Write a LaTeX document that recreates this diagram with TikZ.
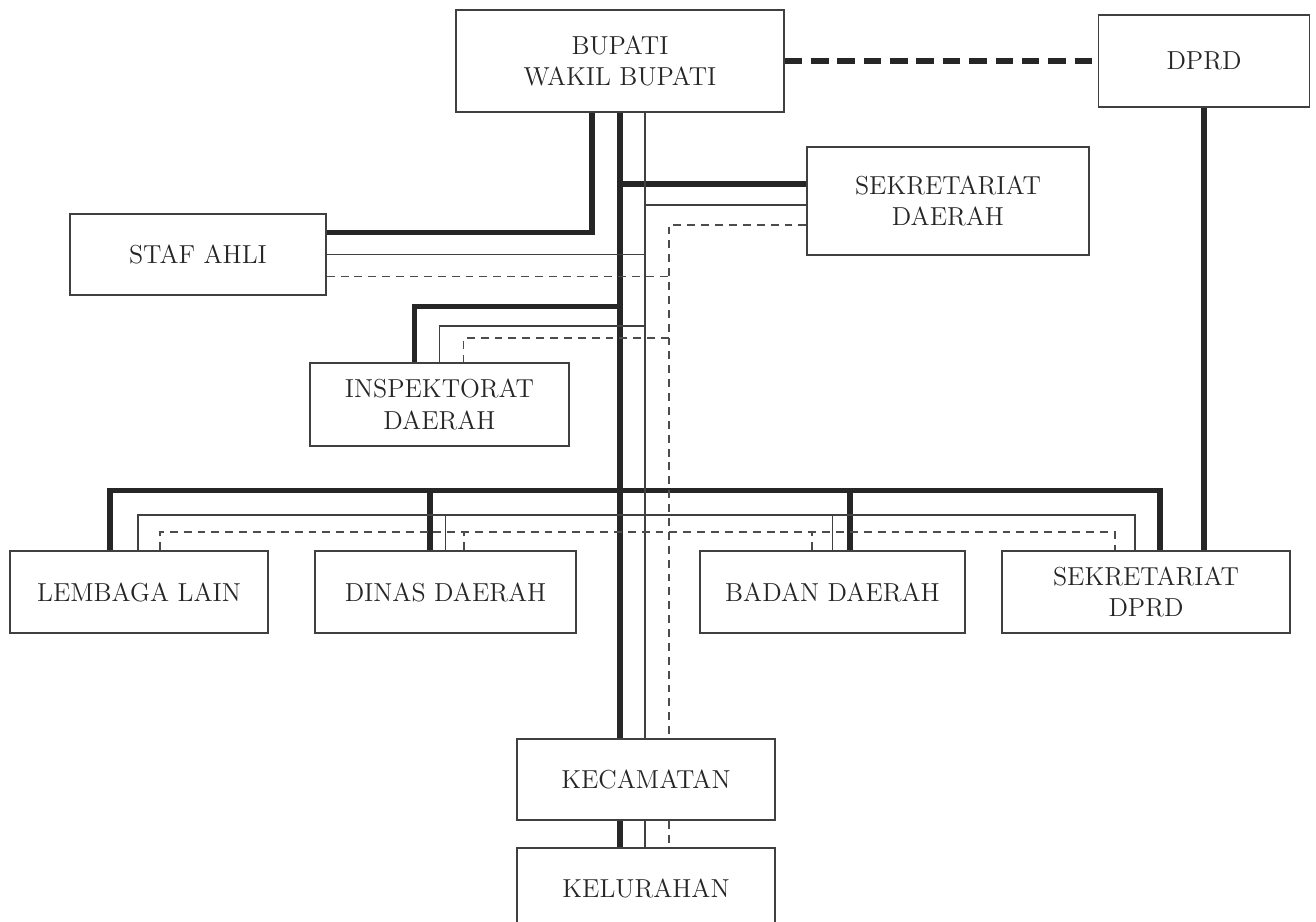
\documentclass[tikz,border=0pt]{standalone}
\usetikzlibrary{calc}

\tikzset{
  unit/.style={draw=black!75, line width=0.85pt, fill=white, align=center,
    inner sep=0pt, text=black!85, font=\fontsize{14.8}{18}\selectfont},
  thickln/.style={draw=black!85, line width=2.9pt},
  thinln/.style={draw=black!75, line width=0.9pt},
  dashln/.style={draw=black!70, line width=0.9pt, dash pattern=on 4.5pt off 3.4pt},
  coordln/.style={draw=black!85, line width=2.9pt, dash pattern=on 10pt off 5pt}
}

\begin{document}
\begin{tikzpicture}[x=0.02cm, y=-0.02cm]
  \useasboundingbox (0,0) rectangle (1316,921);

  % Units
  \node[unit, minimum width=6.56cm, minimum height=2.04cm] (bup) at (620,61) {BUPATI\\WAKIL BUPATI};
  \node[unit, minimum width=4.22cm, minimum height=1.84cm] (dprd) at (1204,61) {DPRD};
  \node[unit, minimum width=5.64cm, minimum height=2.16cm] (sekda) at (948,201) {SEKRETARIAT\\DAERAH};
  \node[unit, minimum width=5.12cm, minimum height=1.62cm] (staf) at (198,254.5) {STAF AHLI};
  \node[unit, minimum width=5.18cm, minimum height=1.66cm] (insp) at (439.5,404.5) {INSPEKTORAT\\DAERAH};
  \node[unit, minimum width=5.16cm, minimum height=1.64cm] (lemb) at (139,592) {LEMBAGA LAIN};
  \node[unit, minimum width=5.22cm, minimum height=1.64cm] (dinas) at (445.5,592) {DINAS DAERAH};
  \node[unit, minimum width=5.30cm, minimum height=1.64cm] (badan) at (832.5,592) {BADAN DAERAH};
  \node[unit, minimum width=5.76cm, minimum height=1.64cm] (sekdprd) at (1146,592) {SEKRETARIAT\\DPRD};
  \node[unit, minimum width=5.16cm, minimum height=1.62cm] (kec) at (646,779.5) {KECAMATAN};
  \node[unit, minimum width=5.16cm, minimum height=1.62cm] (kel) at (646,888.5) {KELURAHAN};

  % Trunks below the Bupati
  \coordinate (tk) at (bup.south);
  \coordinate (tn) at ($(bup.south)+(25,0)$);
  \coordinate (td) at ($(bup.south)+(49,0)$);

  % Branch points
  \coordinate (sekda-k) at ($(sekda.west)+(0,-17)$);
  \coordinate (sekda-n) at ($(sekda.west)+(0,4)$);
  \coordinate (sekda-d) at ($(sekda.west)+(0,24)$);
  \coordinate (staf-k) at ($(staf.east)+(0,-22)$);
  \coordinate (staf-d) at ($(staf.east)+(0,22)$);
  \coordinate (insp-k) at ($(insp.north)+(-25,-56)$);
  \coordinate (insp-n) at ($(insp.north)+(0,-36)$);
  \coordinate (insp-d) at ($(insp.north)+(24,-24)$);

  % Command lines
  \draw[thickln] (tk) -- (tk |- kec.north);
  \draw[thickln] ($(bup.south)+(-28,0)$) |- (staf-k);
  \draw[thickln] (sekda-k) -- (sekda-k -| tk);
  \draw[thickln] (insp-k -| tk) -- (insp-k) -- (insp-k |- insp.north);
  \draw[thickln] ($(lemb.north)+(-29,0)$) -- ++(0,-60) -| ($(sekdprd.north)+(14,0)$);
  \draw[thickln] ($(dinas.north)+(-15.5,0)$) -- ++(0,-60);
  \draw[thickln] ($(badan.north)+(17.5,0)$) -- ++(0,-60);
  \draw[thickln] (kec.south -| tk) -- (kel.north -| tk);
  \draw[thickln] (dprd.south) -- (dprd.south |- sekdprd.north);

  % Coordination lines
  \draw[thinln] (tn) -- (tn |- kec.north);
  \draw[thinln] (sekda-n) -- (sekda-n -| tn);
  \draw[thinln] (staf.east) -- (staf.east -| tn);
  \draw[thinln] (insp-n -| tn) -- (insp-n) -- (insp.north);
  \draw[thinln] ($(lemb.north)+(-1,0)$) -- ++(0,-35) -| ($(sekdprd.north)+(-11,0)$);
  \draw[thinln] (dinas.north) -- ++(0,-35);
  \draw[thinln] (badan.north) -- ++(0,-35);
  \draw[thinln] (kec.south -| tn) -- (kel.north -| tn);

  % Supervision lines
  \draw[dashln] (sekda-d) -| (td |- kec.north);
  \draw[dashln] (staf-d) -- (staf-d -| td);
  \draw[dashln] (insp-d -| td) -- (insp-d) -- (insp-d |- insp.north);
  \draw[dashln] ($(lemb.north)+(21,0)$) -- ++(0,-18) -| ($(sekdprd.north)+(-31,0)$);
  \draw[dashln] ($(dinas.north)+(18.5,0)$) -- ++(0,-18);
  \draw[dashln] ($(badan.north)+(-20.5,0)$) -- ++(0,-18);
  \draw[dashln] (kec.south -| td) -- (kel.north -| td);

  % Bupati and DPRD
  \draw[coordln] (bup.east) -- (dprd.west);

\end{tikzpicture}
\end{document}
